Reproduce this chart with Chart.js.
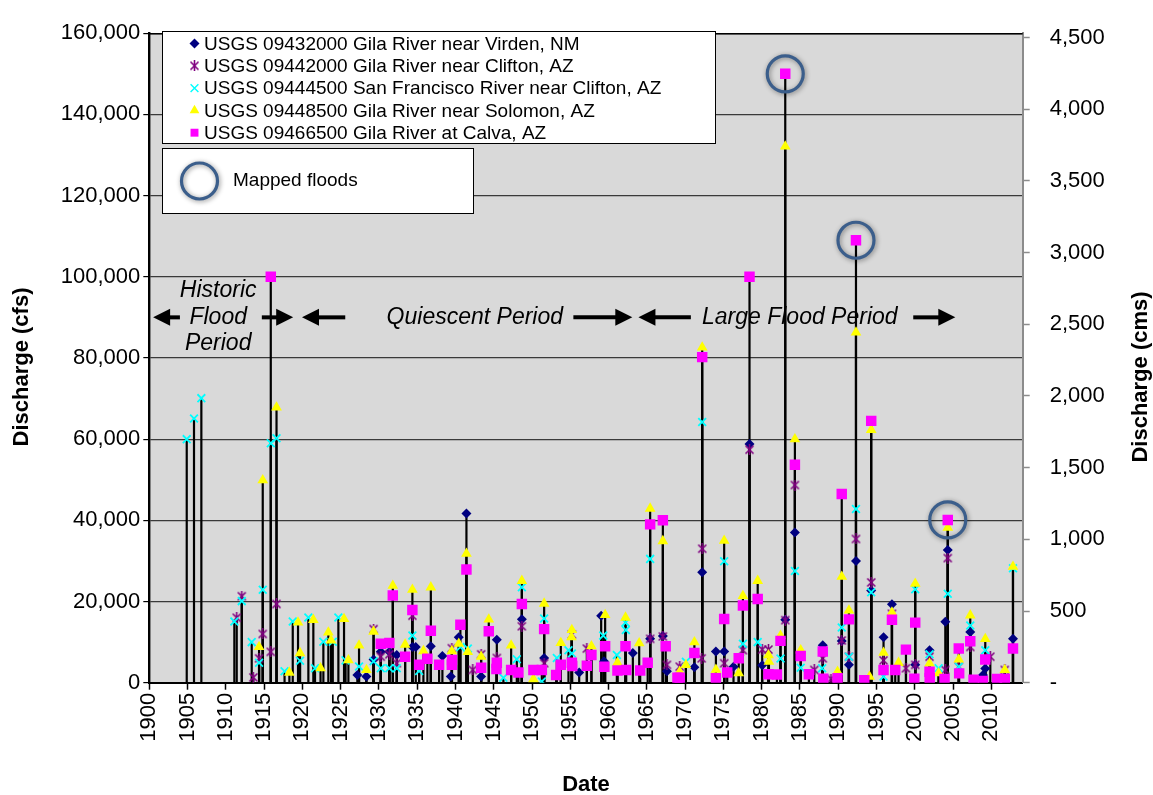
<!DOCTYPE html>
<html>
<head>
<meta charset="utf-8">
<script src="https://cdn.jsdelivr.net/npm/chart.js@4.4.1/dist/chart.umd.min.js"></script>
<style>
html,body{margin:0;padding:0;background:#ffffff;}
#wrap{width:1153px;height:795px;position:relative;}
</style>
</head>
<body>
<div id="wrap"><canvas id="c" width="1153" height="795"></canvas></div>
<script>
// ---------------- DATA (peak discharge, cfs) ----------------
const seriesLabels = [
  'USGS 09432000 Gila River near Virden, NM',
  'USGS 09442000 Gila River near Clifton, AZ',
  'USGS 09444500 San Francisco River near Clifton, AZ',
  'USGS 09448500 Gila River near Solomon, AZ',
  'USGS 09466500 Gila River at Calva, AZ'
];
const mappedLabel = 'Mapped floods';

const virdenYear = [1927.18,1928.36,1929.30,1930.24,1931.36,1932.33,1934.37,1934.81,1936.78,1938.29,1939.39,1940.43,1941.43,1943.35,1945.40,1948.67,1951.58,1956.16,1959.03,1959.40,1963.17,1965.43,1967.09,1967.62,1971.21,1972.23,1974.02,1975.10,1976.32,1978.41,1980.07,1983.08,1984.34,1987.98,1990.46,1991.40,1992.32,1994.31,1995.92,1997.02,2000.06,2001.93,2003.99,2004.31,2007.25,2008.91,2009.21,2012.83];
const virdenCfs  = [1900,1500,5700,7600,7600,6800,8800,8800,9000,6600,1500,11200,41700,1500,10600,15600,6100,2500,16500,5300,7300,10800,11500,2800,3800,27200,7700,7700,3950,58800,4300,15500,37000,9200,10300,4400,30000,22700,11200,19300,4400,8000,15000,32700,12500,1900,3500,10800];

const cliftonYear = [1911.42,1912.08,1913.59,1914.34,1914.82,1915.87,1916.62,1929.30,1930.24,1931.36,1932.33,1934.37,1939.52,1942.26,1943.35,1945.40,1948.67,1951.58,1955.20,1957.16,1965.43,1967.09,1967.62,1969.29,1972.16,1972.23,1975.10,1977.55,1978.41,1980.07,1980.89,1983.08,1984.34,1986.87,1987.98,1989.05,1990.46,1991.40,1992.32,1994.31,1995.92,1997.02,1998.85,2000.06,2001.93,2003.99,2004.31,2005.75,2007.25,2009.87,2011.76];
const cliftonCfs  = [16000,21300,1300,6000,12000,7600,19400,13200,6400,7000,4800,16500,8500,3150,7000,6100,13900,4800,11900,8400,10800,11400,4400,3950,6000,33000,4800,8000,57400,8150,8150,15400,48700,3150,6000,900,10400,6400,35400,24700,5500,17000,3550,4400,6400,3150,30700,3950,8800,6400,3150];

const sanFranYear = [1904.89,1905.84,1906.80,1911.11,1912.08,1913.38,1914.34,1914.82,1915.87,1916.62,1917.67,1918.74,1919.69,1920.78,1921.65,1922.74,1923.97,1924.70,1925.64,1927.40,1929.30,1930.24,1931.36,1932.33,1934.37,1935.25,1940.64,1941.61,1946.26,1948.01,1948.67,1951.28,1951.58,1953.24,1954.76,1955.20,1959.30,1961.08,1962.21,1962.25,1965.43,1970.10,1972.23,1975.10,1977.55,1979.48,1982.46,1984.34,1985.10,1987.90,1990.46,1991.40,1992.32,1994.31,1995.92,2000.06,2001.93,2003.11,2004.31,2005.75,2007.25,2009.21,2012.83];
const sanFranCfs  = [60000,65100,70100,15100,20100,10000,4900,22900,59000,60200,2800,15100,5400,16050,3550,10100,10100,16050,5500,4000,5300,3550,3550,3550,11600,2900,8800,8400,1200,5800,23500,320,15800,6100,8000,7200,11600,6800,14800,13000,30500,5160,64200,29900,9600,10000,5970,27500,3700,3550,13600,6400,42800,22300,1500,23000,7000,3550,21900,3950,14100,8000,28200];

const solomonYear = [1914.34,1914.82,1916.62,1918.30,1919.43,1919.69,1921.43,1922.37,1923.39,1923.75,1925.44,1926.01,1927.40,1928.36,1929.30,1931.81,1933.42,1934.37,1935.81,1936.78,1939.52,1940.43,1941.43,1941.61,1943.35,1944.35,1947.27,1948.67,1950.18,1951.58,1953.76,1955.20,1955.15,1957.76,1959.55,1961.16,1962.21,1964.00,1965.43,1967.09,1969.29,1970.10,1971.21,1972.23,1974.02,1975.10,1977.00,1977.55,1979.48,1980.89,1980.95,1982.46,1983.08,1984.34,1985.10,1989.91,1990.46,1991.40,1992.32,1994.09,1994.31,1995.92,1997.02,1997.88,2000.06,2001.93,2003.11,2004.31,2005.75,2007.25,2009.21,2011.76,2012.83];
const solomonCfs  = [8800,49900,67800,2500,14840,7300,15500,3600,12400,10400,15700,5570,9200,3150,12600,23900,9400,22900,7800,23500,7800,9600,31800,7600,6400,15600,9200,25100,900,19500,9800,13000,11200,9000,16700,4900,16050,9760,42900,34900,2740,4360,10000,82600,3200,35000,2340,21400,25100,6800,5200,11600,132100,60000,8000,2700,26100,17800,86300,1500,62300,7400,17300,4900,24400,4760,2340,38200,5730,16600,10800,3150,28600];

const calvaYear = [1915.87,1930.24,1931.36,1931.81,1933.42,1934.37,1935.25,1936.33,1936.78,1937.86,1939.52,1939.55,1940.64,1941.43,1943.35,1944.35,1945.40,1945.35,1947.27,1948.22,1948.67,1950.18,1951.28,1951.58,1953.15,1953.76,1955.20,1955.25,1957.16,1957.76,1959.55,1959.45,1961.16,1962.30,1962.21,1964.13,1965.11,1965.43,1967.09,1967.46,1969.00,1969.29,1971.21,1972.23,1974.02,1975.50,1975.10,1977.00,1977.55,1978.41,1979.48,1980.89,1981.99,1982.46,1983.08,1984.34,1985.10,1986.17,1987.98,1988.05,1989.91,1990.46,1991.40,1992.32,1993.40,1994.31,1995.92,1997.02,1997.45,1998.85,1999.94,2000.06,2001.93,2001.95,2003.89,2004.31,2005.75,2005.80,2007.25,2007.68,2008.91,2009.21,2010.74,2011.76,2012.83];
const calvaCfs  = [100000,9600,9800,21500,6400,17900,4400,5900,12800,4400,4400,5600,14300,27900,3700,12700,4900,3400,3150,2500,19400,3150,3150,13200,1900,4400,4900,4100,4200,6800,9000,3950,3000,3150,9000,3000,4900,39000,40000,9000,1200,1200,7300,80200,1130,2500,15700,6000,19000,100000,20600,2100,2000,10300,150000,53700,6600,2100,7700,950,1130,46500,15600,109000,600,64500,3150,15500,3150,8150,1000,14800,2700,1130,900,40100,8400,2300,10200,730,400,5700,900,900,8400];

const mappedYear = [1983.08, 1992.32, 2004.31];
const mappedCfs  = [150000, 109000, 40100];

const leftTicks  = {min: 0, max: 160000, step: 20000};
const CFS_PER_CMS = 35.3147;
const rightTicks = {min: 0, max: 160000 / CFS_PER_CMS, step: 500, last: 4500};
const yearTicks  = {min: 1900, max: 2014.1, step: 5, last: 2010};

// ---------------- helpers ----------------
const FONT = "'Liberation Sans', Arial, sans-serif";
function zip(xs, ys) { return xs.map((x, i) => ({x: x, y: ys[i]})); }
function stepValues(min, last, step) {
  const out = [];
  for (let v = min; v <= last + 1e-9; v += step) out.push({value: v});
  return out;
}

const asterisk = (function () {
  const c = document.createElement('canvas');
  c.width = 11; c.height = 11;
  const g = c.getContext('2d');
  g.strokeStyle = '#800080'; g.lineWidth = 1.6;
  g.beginPath();
  g.moveTo(1.5, 1.5); g.lineTo(9.5, 9.5);
  g.moveTo(9.5, 1.5); g.lineTo(1.5, 9.5);
  g.moveTo(5.5, 0); g.lineTo(5.5, 11);
  g.stroke();
  return c;
})();

const styles = [
  {pointStyle: 'rectRot',  radius: 5,   fill: '#000080', stroke: '#000080', bw: 0,   order: 4},
  {pointStyle: asterisk,   radius: 5.5, fill: '#800080', stroke: '#800080', bw: 0,   order: 3},
  {pointStyle: 'crossRot', radius: 5.5, fill: '#00ffff', stroke: '#00ffff', bw: 1.8, order: 2},
  {pointStyle: 'triangle', radius: 6.2, fill: '#ffff00', stroke: '#ffff00', bw: 0,   order: 1},
  {pointStyle: 'rect',     radius: 7.4, fill: '#ff00ff', stroke: '#ff00ff', bw: 0,   order: 0}
];
const seriesData = [
  zip(virdenYear, virdenCfs),
  zip(cliftonYear, cliftonCfs),
  zip(sanFranYear, sanFranCfs),
  zip(solomonYear, solomonCfs),
  zip(calvaYear, calvaCfs)
];

const datasets = seriesData.map((d, i) => ({
  label: seriesLabels[i],
  data: d,
  yAxisID: 'y',
  showLine: false,
  pointStyle: styles[i].pointStyle,
  pointRadius: styles[i].radius,
  pointBackgroundColor: styles[i].fill,
  pointBorderColor: styles[i].stroke,
  pointBorderWidth: styles[i].bw,
  order: styles[i].order,
  stems: true
}));
datasets.push({
  label: mappedLabel,
  data: zip(mappedYear, mappedCfs),
  yAxisID: 'y',
  showLine: false,
  pointStyle: 'circle',
  pointRadius: 18,
  pointBackgroundColor: 'rgba(0,0,0,0)',
  pointBorderColor: '#3b5e8b',
  pointBorderWidth: 3.2,
  order: -1,
  stems: false,
  shadow: true
});

// ---------------- plugins ----------------
const plotBg = {
  id: 'plotBg',
  beforeDraw(chart) {
    const {ctx, chartArea: a} = chart;
    ctx.save();
    ctx.fillStyle = '#d9d9d9';
    ctx.fillRect(a.left, a.top, a.right - a.left, a.bottom - a.top);
    ctx.restore();
  }
};

const stems = {
  id: 'stems',
  beforeDatasetsDraw(chart) {
    const {ctx, chartArea: a} = chart;
    const y0 = chart.scales.y.getPixelForValue(0);
    ctx.save();
    ctx.strokeStyle = '#000'; ctx.lineWidth = 1.5;
    ctx.beginPath(); ctx.moveTo(a.left, a.top + 0.5); ctx.lineTo(a.right, a.top + 0.5); ctx.stroke();
    ctx.strokeStyle = '#000'; ctx.lineWidth = 2.2;
    chart.data.datasets.forEach((ds, i) => {
      if (!ds.stems) return;
      const meta = chart.getDatasetMeta(i);
      meta.data.forEach(p => {
        ctx.beginPath();
        ctx.moveTo(p.x, p.y);
        ctx.lineTo(p.x, y0);
        ctx.stroke();
      });
    });
    ctx.restore();
  },
  beforeDatasetDraw(chart, args) {
    const ds = chart.data.datasets[args.index];
    if (ds.shadow) {
      chart.ctx.save();
      chart.ctx.shadowColor = 'rgba(0,0,0,0.45)';
      chart.ctx.shadowBlur = 5;
      chart.ctx.shadowOffsetX = 1;
      chart.ctx.shadowOffsetY = 1;
    }
  },
  afterDatasetDraw(chart, args) {
    const ds = chart.data.datasets[args.index];
    if (ds.shadow) chart.ctx.restore();
  }
};

const periods = [
  {lines: ['Historic', 'Flood', 'Period'], x: 1909.0, ys: [96500, 90000, 83500], align: 'center'},
  {lines: ['Quiescent Period'], x: 1931.0, ys: [90000], align: 'left'},
  {lines: ['Large Flood Period'], x: 1972.2, ys: [90000], align: 'left'}
];
const arrows = [
  {from: 1904.0, to: 1900.5}, {from: 1914.7, to: 1918.8},
  {from: 1925.6, to: 1919.95}, {from: 1955.4, to: 1963.1},
  {from: 1970.75, to: 1963.9}, {from: 1999.8, to: 2005.3}
];
const arrowLevel = 90000;

function drawArrow(ctx, x1, x2, y) {
  const dir = x2 > x1 ? 1 : -1;
  const head = 17, half = 8.5;
  ctx.beginPath();
  ctx.moveTo(x1, y); ctx.lineTo(x2 - dir * head * 0.8, y);
  ctx.stroke();
  ctx.beginPath();
  ctx.moveTo(x2, y);
  ctx.lineTo(x2 - dir * head, y - half);
  ctx.lineTo(x2 - dir * head, y + half);
  ctx.closePath();
  ctx.fill();
}

const annotations = {
  id: 'annotations',
  afterDatasetsDraw(chart) {
    const {ctx} = chart;
    const xs = chart.scales.x, ys = chart.scales.y;
    ctx.save();
    ctx.fillStyle = '#000'; ctx.strokeStyle = '#000'; ctx.lineWidth = 4;
    arrows.forEach(a => drawArrow(ctx, xs.getPixelForValue(a.from), xs.getPixelForValue(a.to), ys.getPixelForValue(arrowLevel)));
    ctx.font = 'italic 23px ' + FONT;
    ctx.textBaseline = 'middle';
    periods.forEach(p => {
      ctx.textAlign = p.align;
      p.lines.forEach((t, k) => ctx.fillText(t, xs.getPixelForValue(p.x), ys.getPixelForValue(p.ys[k])));
    });
    ctx.restore();
  }
};

function drawMarker(ctx, st, x, y) {
  ctx.save();
  ctx.fillStyle = st.fill; ctx.strokeStyle = st.stroke; ctx.lineWidth = st.bw || 0;
  if (Chart.helpers && Chart.helpers.drawPoint) {
    Chart.helpers.drawPoint(ctx, {pointStyle: st.pointStyle, radius: st.radius, borderWidth: st.bw, rotation: 0}, x, y);
  }
  ctx.restore();
}

const axisTitles = {
  id: 'axisTitles',
  afterDraw(chart) {
    const {ctx} = chart;
    ctx.save();
    ctx.font = 'bold 22px ' + FONT;
    ctx.fillStyle = '#000';
    ctx.textAlign = 'center'; ctx.textBaseline = 'middle';
    ctx.translate(22, 367); ctx.rotate(-Math.PI / 2);
    ctx.fillText('Discharge (cfs)', 0, 0);
    ctx.restore();
    ctx.save();
    ctx.font = 'bold 22px ' + FONT;
    ctx.fillStyle = '#000';
    ctx.textAlign = 'center'; ctx.textBaseline = 'middle';
    ctx.translate(1141, 377); ctx.rotate(-Math.PI / 2);
    ctx.fillText('Discharge (cms)', 0, 0);
    ctx.restore();
  }
};

const legendBoxes = {
  id: 'legendBoxes',
  afterDraw(chart) {
    const {ctx} = chart;
    ctx.save();
    ctx.fillStyle = '#fff'; ctx.strokeStyle = '#000'; ctx.lineWidth = 1;
    ctx.fillRect(162.5, 31.5, 553, 112); ctx.strokeRect(162.5, 31.5, 553, 112);
    ctx.font = '19px ' + FONT; ctx.textBaseline = 'middle'; ctx.textAlign = 'left';
    seriesLabels.forEach((t, i) => {
      const y = 43.5 + i * 22.3;
      const st = Object.assign({}, styles[i]);
      st.radius = Math.min(st.radius, 5.6);
      if (i === 2) st.bw = 1.4;
      drawMarker(ctx, st, 194.5, y);
      ctx.fillStyle = '#000';
      ctx.fillText(t, 204, y + 1);
    });
    ctx.fillStyle = '#fff'; ctx.strokeStyle = '#000'; ctx.lineWidth = 1;
    ctx.fillRect(162.5, 148.5, 311, 65); ctx.strokeRect(162.5, 148.5, 311, 65);
    ctx.save();
    ctx.shadowColor = 'rgba(0,0,0,0.45)'; ctx.shadowBlur = 5; ctx.shadowOffsetX = 1; ctx.shadowOffsetY = 1;
    ctx.strokeStyle = '#3b5e8b'; ctx.lineWidth = 3.2;
    ctx.beginPath(); ctx.arc(199.5, 181, 18, 0, Math.PI * 2); ctx.stroke();
    ctx.restore();
    ctx.fillStyle = '#000'; ctx.font = '19px ' + FONT;
    ctx.fillText(mappedLabel, 233, 181);
    ctx.restore();
  }
};

// ---------------- chart ----------------
Chart.defaults.font.family = FONT;
Chart.defaults.color = '#000';

new Chart(document.getElementById('c'), {
  type: 'scatter',
  data: {datasets: datasets},
  options: {
    responsive: false,
    animation: false,
    devicePixelRatio: 1,
    events: [],
    layout: {padding: {top: 22, left: 0, right: 0, bottom: 0}},
    plugins: {legend: {display: false}, tooltip: {enabled: false}},
    scales: {
      x: {
        type: 'linear', position: 'bottom',
        min: yearTicks.min, max: yearTicks.max,
        afterBuildTicks(s) { s.ticks = stepValues(yearTicks.min, yearTicks.last, yearTicks.step); },
        afterFit(s) { s.height = 112.3; },
        grid: {drawOnChartArea: false, drawTicks: true, tickLength: 7, tickColor: '#000', tickWidth: 1.5},
        border: {color: '#000', width: 2},
        ticks: {
          autoSkip: false,
          minRotation: 90, maxRotation: 90, padding: 3,
          font: {size: 22}, color: '#000',
          callback: v => String(v)
        },
        title: {display: true, text: 'Date', font: {size: 22, weight: 'bold'}, color: '#000', padding: {top: 0, bottom: -3}}
      },
      y: {
        type: 'linear', position: 'left',
        min: leftTicks.min, max: leftTicks.max,
        afterBuildTicks(s) { s.ticks = stepValues(leftTicks.min, leftTicks.max, leftTicks.step); },
        afterFit(s) { s.width = 149.3; },
        grid: {color: '#3a3a3a', lineWidth: 1.2, tickLength: 6, tickColor: '#000'},
        border: {color: '#000', width: 2.4},
        ticks: {padding: 3, font: {size: 22}, color: '#000',
          callback: v => v.toLocaleString('en-US')},
        title: {display: false}
      },
      y2: {
        type: 'linear', position: 'right',
        min: rightTicks.min, max: rightTicks.max,
        afterBuildTicks(s) { s.ticks = stepValues(rightTicks.min, rightTicks.last, rightTicks.step); },
        afterFit(s) { s.width = 130.3; },
        grid: {drawOnChartArea: false, tickLength: 7, tickColor: '#8c8c8c', tickWidth: 1.5},
        border: {color: '#8c8c8c', width: 2},
        ticks: {padding: 20, font: {size: 22}, color: '#000',
          callback: v => v === 0 ? '-' : v.toLocaleString('en-US')},
        title: {display: false}
      }
    }
  },
  plugins: [plotBg, stems, annotations, legendBoxes, axisTitles]
});
</script>
</body>
</html>
